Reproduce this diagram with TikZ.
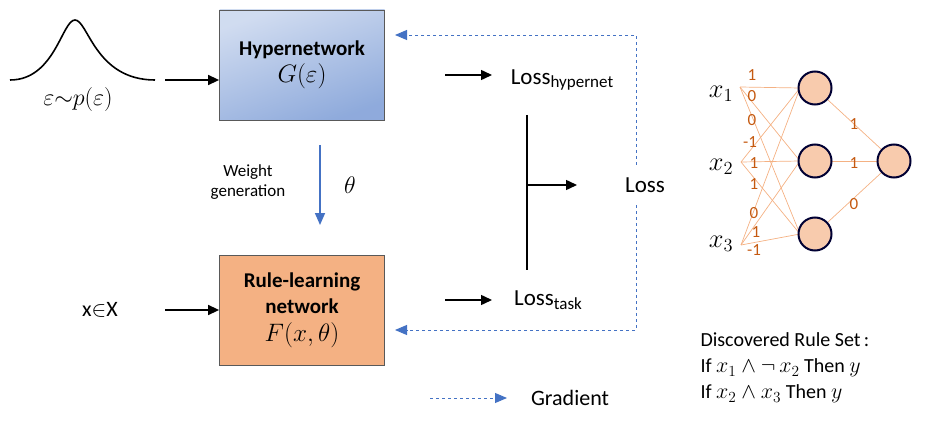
\RequirePackage{fix-cm}
\documentclass[tikz,border=0pt]{standalone}
\usepackage{amsmath,amssymb,graphicx}
\usepackage{fontspec}
\setmainfont{Carlito}
\usetikzlibrary{arrows.meta}
\definecolor{eblue}{RGB}{68,114,196}
\definecolor{wcol}{RGB}{197,90,17}
\definecolor{ecol}{RGB}{244,177,131}
\definecolor{nfill}{RGB}{248,203,173}
\newcommand{\fs}[1]{\fontsize{#1}{\numexpr#1*6/5\relax}\selectfont}
\newcommand{\bm}[1]{\scalebox{1.2}{$#1$}}
\newcommand{\sm}[1]{\scalebox{1.1}{$#1$}}
\newcommand{\sub}[1]{\raisebox{-0.35ex}{\fs{17}#1}}
\begin{document}
\begin{tikzpicture}[x=1pt,y=-1pt,
 arr/.style={-{Triangle[length=11pt,width=10pt]},line width=1.5pt},
 grad/.style={dashed,eblue,line width=0.9pt,-{Triangle[length=12pt,width=10pt]}},
 box/.style={draw=gray!70!black,line width=0.8pt,minimum width=165pt,minimum height=110pt,align=center,font=\fs{21}},
 mth/.style={font=\fs{20}},
 neu/.style={circle,draw=black!80!blue,line width=2pt,fill=nfill,minimum size=33pt,inner sep=0},
 ed/.style={ecol,line width=0.7pt},
 w/.style={wcol,font=\fs{17},inner sep=0}]
\useasboundingbox (0,0) rectangle (928,422);
\draw[line width=1.6pt] (10,80) .. controls (55,80) and (62,20) .. (75,20) .. controls (88,20) and (95,80) .. (155,80);
\node[mth] (eps) at (78,100) {\bm{\varepsilon{\sim} p(\varepsilon)}};
\coordinate (a1) at (165,80);
\node[box,top color=eblue!25,bottom color=eblue!60,shading angle=20] (hyp) at (302,65) {\textbf{Hypernetwork}\\[2pt] \bm{G(\varepsilon)}};
\draw[arr] (a1) -- (hyp.west|-a1);
\node[box,fill=ecol] (rule) at (302,310) {\textbf{Rule-learning}\\[1pt] \textbf{network}\\[3pt] \bm{F(x,\theta)}};
\node[font=\fs{22}] (xin) at (100,310) {x$\in$X};
\coordinate (a2) at (165,310);
\draw[arr] (a2) -- (rule.west);
\draw[line width=1.6pt,eblue,-{Triangle[length=12pt,width=10pt]}] (320,145) -- (320,225);
\node[align=center,font=\fs{17}] (wg) at (248,182) {Weight\\generation};
\node[mth] (th) at (350,185) {\bm{\theta}};
\node[font=\fs{23}] (lh) at (562,80) {Loss\sub{hypernet}};
\node[font=\fs{23}] (lt) at (548,300) {Loss\sub{task}};
\draw[arr] (445,75) -- (492,75);
\draw[arr] (445,300) -- (492,300);
\draw[line width=1.8pt] (527,115) -- (527,270);
\node[font=\fs{23}] (loss) at (645,185) {Loss};
\draw[arr] (527,185) -- (577,185);
\draw[grad] (636,165) -- (636,35) -- (395,35);
\draw[grad] (636,205) -- (636,330) -- (395,330);
\draw[grad] (430,398) -- (507,398);
\node[font=\fs{22}] (g) at (570,398) {Gradient};
\coordinate (i1) at (740,87); \coordinate (i2) at (741,162); \coordinate (i3) at (741,245);
\foreach \h/\y in {h1/88,h2/161,h3/234}{\coordinate (c\h) at (815,\y);}
\coordinate (co) at (894,161);
\foreach \i in {i1,i2,i3}{\foreach \h in {ch1,ch2,ch3}{\draw[ed] (\i) -- ([xshift=-15pt]\h);}}
\foreach \h in {ch1,ch2,ch3}{\draw[ed] (\h) -- (co);}
\node[font=\fs{22}] (x1) at (721,94) {\bm{x_1}};
\node[font=\fs{22}] (x2) at (721,167) {\bm{x_2}};
\node[font=\fs{22}] (x3) at (721,244) {\bm{x_3}};
\node[neu] (h1) at (ch1) {};
\node[neu] (h2) at (ch2) {};
\node[neu] (h3) at (ch3) {};
\node[neu] (o) at (co) {};
\node[w] at (752,75) {1};
\node[w] at (752,96) {0};
\node[w] at (752,120) {0};
\node[w] at (750,142) {-1};
\node[w] at (754,163) {1};
\node[w] at (754,184) {1};
\node[w] at (754,213) {0};
\node[w] at (756,232) {1};
\node[w] at (754,250) {-1};
\node[w] at (854,124) {1};
\node[w] at (854,163) {1};
\node[w] at (854,204) {0};
\node[anchor=west,align=left,font=\fs{20}] (rs) at (697,368) {Discovered Rule Set\,:\\[2pt]If \sm{x_1\wedge\neg\,x_2} Then \sm{y}\\[2pt]If \sm{x_2\wedge x_3} Then \sm{y}};
\end{tikzpicture}
\end{document}
